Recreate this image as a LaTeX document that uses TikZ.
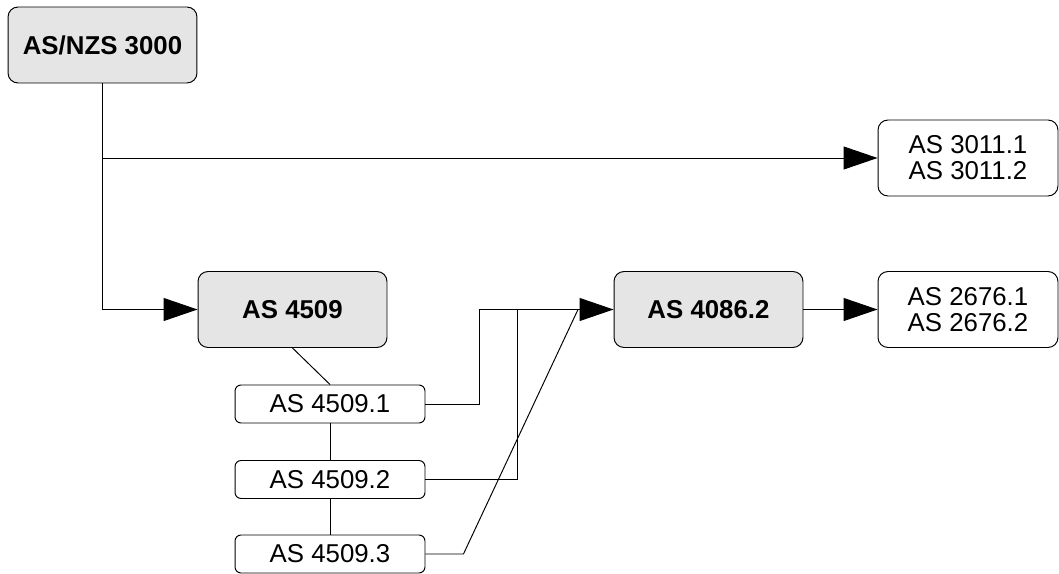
\documentclass[tikz,border=0pt]{standalone}
\usepackage{fontspec}
\setmainfont{Liberation Sans}
\usepackage{tikz}
\usetikzlibrary{arrows.meta}
\newcommand{\stdfont}{\fontsize{14.7}{14.8}\selectfont}

\begin{document}
\begin{tikzpicture}[x=0.02cm,y=-0.02cm,line width=0.55pt]
\tikzstyle{every node}=[draw,align=center,inner sep=0pt,font=\stdfont]
\tikzstyle{mainbox}=[fill=black!10,rounded corners=0.2cm,minimum width=3.78cm,minimum height=1.52cm,font=\stdfont\bfseries]
\tikzstyle{subbox}=[rounded corners=0.2cm,minimum width=3.6cm,minimum height=1.52cm]
\tikzstyle{partbox}=[rounded corners=0.12cm,minimum width=3.8cm,minimum height=0.76cm]
\tikzstyle{feed}=[-{Triangle[length=0.68cm,width=0.46cm]}]
\useasboundingbox (0,0) rectangle (1059,574);
\node[mainbox] (nzs) at (102.5,45) {AS/NZS 3000};
\node[subbox] (wiring) at (968,158) {AS 3011.1\\AS 3011.2};
\node[mainbox] (gen) at (292.5,309.5) {AS 4509};
\node[mainbox] (inv) at (708.5,309.5) {AS 4086.2};
\node[subbox] (batt) at (968,309.5) {AS 2676.1\\AS 2676.2};
\node[partbox] (p1) at (330,404) {AS 4509.1};
\node[partbox] (p2) at (330,479.5) {AS 4509.2};
\node[partbox] (p3) at (330,554) {AS 4509.3};
\coordinate (join) at (578,309.5);
% trunk from the wiring rules
\draw[feed] (nzs.south) |- (wiring.west);
\draw[feed] (nzs.south) |- (gen.west);
% parts of AS 4509
\draw (gen.south) -- (p1.north);
\draw (p1) -- (p2) -- (p3);
\draw (p1.east) -- ++(54,0) |- (join);
\draw (p2.east) -- ++(92,0) |- (join);
\draw (p3.east) -- ++(38,0) -- (join);
\draw[feed] (join) -- (inv.west);
\draw[feed] (inv.east) -- (batt.west);
\end{tikzpicture}
\end{document}
